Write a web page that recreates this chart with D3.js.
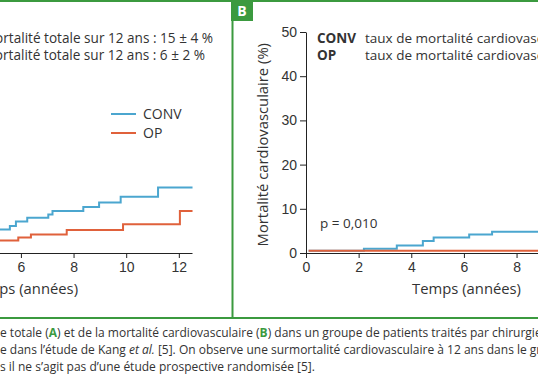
<!DOCTYPE html>
<html>
<head>
<meta charset="utf-8">
<script src="https://cdn.jsdelivr.net/npm/d3@7"></script>
<style>
  body { margin: 0; background: #fff; }
  svg { display: block; font-family: "Open Sans", "Noto Sans", sans-serif; }
</style>
</head>
<body>
<div id="chart"></div>
<script>
// panel A : mortalité totale (steps, years / %)
const convTotalTimes = [0, 0.4, 1.1, 1.9, 2.7, 3.5, 4.3, 4.9, 5.58, 5.81, 6.24, 7.04, 7.2, 8.37, 8.97, 9.79, 11.21];
const convTotalValues = [0, 0.7, 1.5, 2.3, 3.0, 3.8, 4.5, 5.3, 6.1, 7.1, 8.0, 8.7, 9.5, 10.4, 11.4, 12.7, 14.8];
const opTotalTimes = [0, 0.8, 2.2, 3.9, 5.9, 6.38, 7.74, 9.88, 12.04];
const opTotalValues = [0, 0.7, 1.5, 2.8, 3.5, 4.2, 5.2, 6.5, 9.5];

// panel B : mortalité cardiovasculaire
const convCvTimes = [0.1, 2.2, 3.45, 4.44, 4.85, 6.2, 7.07];
const convCvValues = [0.5, 0.95, 1.7, 2.7, 3.5, 4.2, 4.8];
const opCvTimes = [0.1];
const opCvValues = [0.5];

const endTime = 12.52;
const xTicks = [0, 2, 4, 6, 8, 10, 12];
const yTicks = [0, 10, 20, 30, 40, 50];

const titlesA = ["CONV   taux de mortalité totale sur 12 ans : 15 ± 4 %",
                 "OP   taux de mortalité totale sur 12 ans : 6 ± 2 %"];
const legendNames = ["CONV", "OP"];
const legendB = ["taux de mortalité cardiovasculaire sur 12 ans : 5 ± 2 %",
                 "taux de mortalité cardiovasculaire sur 12 ans : 0,5 ± 0,5 %"];

const blue = "#4ba6cf", orange = "#e0613b", green = "#3b9a3f", ink = "#333";

let width = 538, height = 384;
let svg = d3.select("#chart").append("svg")
    .attr("width", width).attr("height", height);

svg.append("rect").attr("width", width).attr("height", height).attr("fill", "#fff");

function steps(times, values) {
    let pts = times.map((t, i) => [t, values[i]]);
    pts.push([endTime, values[values.length - 1]]);
    return pts;
}

let y = d3.scaleLinear().domain([0, 50]).range([253, 32]);

function drawPanel(g, x, series) {
    let line = d3.line()
        .x(d => x(d[0]))
        .y(d => y(d[1]))
        .curve(d3.curveStepAfter);

    series.forEach(s => {
        g.append("path")
            .datum(steps(s.times, s.values))
            .attr("fill", "none")
            .attr("stroke", s.color)
            .attr("stroke-width", 2)
            .attr("d", line);
    });

    let xAxis = g.append("g")
        .attr("transform", "translate(0," + y(0) + ")")
        .call(d3.axisBottom(x).tickValues(xTicks).tickSize(5).tickSizeOuter(0).tickPadding(4));
    xAxis.selectAll("text").attr("font-size", 14).attr("fill", ink);
    xAxis.selectAll("line,path").attr("stroke", "#222");

    let yAxis = g.append("g")
        .attr("transform", "translate(" + x(0) + ",0)")
        .call(d3.axisLeft(y).tickValues(yTicks).tickSize(6).tickSizeOuter(0).tickPadding(3));
    yAxis.selectAll("text").attr("font-size", 14).attr("fill", ink);
    yAxis.selectAll("line,path").attr("stroke", "#222");

    g.append("text")
        .attr("x", x(6.1)).attr("y", 294)
        .attr("text-anchor", "middle")
        .attr("font-size", 14.8).attr("fill", ink)
        .text("Temps (années)");

    g.append("text")
        .attr("transform", "translate(" + (x(0) - 38) + "," + y(24.5) + ") rotate(-90)")
        .attr("text-anchor", "middle")
        .attr("font-size", 14.8).attr("fill", ink)
        .text(g.attr("data-ylabel"));
}

// ---- panel A
let xA = d3.scaleLinear().domain([0, 12.5]).range([-137, 192]);
let gA = svg.append("g").attr("data-ylabel", "Mortalité totale (%)");
drawPanel(gA, xA, [
    {times: convTotalTimes, values: convTotalValues, color: blue},
    {times: opTotalTimes, values: opTotalValues, color: orange}
]);

gA.selectAll(".titleA")
    .data(titlesA)
    .enter().append("text")
    .attr("x", (d, i) => i === 0 ? 213 : 205)
    .attr("y", (d, i) => 43 + i * 17)
    .attr("text-anchor", "end")
    .attr("font-size", 13.6).attr("fill", ink)
    .text(d => d);

let leg = gA.selectAll(".leg")
    .data(legendNames)
    .enter().append("g")
    .attr("transform", (d, i) => "translate(111," + (114 + i * 19) + ")");
leg.append("line")
    .attr("x1", 0).attr("x2", 25)
    .attr("stroke", (d, i) => i === 0 ? blue : orange)
    .attr("stroke-width", 2);
leg.append("text")
    .attr("x", 32).attr("y", 5)
    .attr("font-size", 14).attr("fill", ink)
    .text(d => d);

// ---- panel B
let xB = d3.scaleLinear().domain([0, 12.5]).range([306, 635]);
let gB = svg.append("g").attr("data-ylabel", "Mortalité cardiovasculaire (%)");
drawPanel(gB, xB, [
    {times: convCvTimes, values: convCvValues, color: blue},
    {times: opCvTimes, values: opCvValues, color: orange}
]);

legendNames.forEach((name, i) => {
    gB.append("text")
        .attr("x", 317).attr("y", 43 + i * 17)
        .attr("font-size", 13.5).attr("font-weight", "bold").attr("fill", ink)
        .text(name);
    gB.append("text")
        .attr("x", 365).attr("y", 43 + i * 17)
        .attr("font-size", 13.5).attr("fill", ink)
        .text(legendB[i]);
});

gB.append("text")
    .attr("x", 320).attr("y", 228)
    .attr("font-size", 13.5).attr("fill", ink)
    .text("p = 0,010");

// ---- frame
svg.append("line").attr("x1", 0).attr("x2", width).attr("y1", 1).attr("y2", 1)
    .attr("stroke", green).attr("stroke-width", 2);
svg.append("line").attr("x1", 0).attr("x2", width).attr("y1", 318).attr("y2", 318)
    .attr("stroke", green).attr("stroke-width", 2);
svg.append("line").attr("x1", 232.5).attr("x2", 232.5).attr("y1", 0).attr("y2", 318)
    .attr("stroke", green).attr("stroke-width", 2);
svg.append("rect").attr("x", 231).attr("y", 0).attr("width", 22).attr("height", 21)
    .attr("fill", green);
svg.append("text").attr("x", 242).attr("y", 16)
    .attr("text-anchor", "middle")
    .attr("font-size", 14).attr("font-weight", "bold").attr("fill", "#fff")
    .text("B");

// ---- caption
let caption = svg.append("text").attr("font-size", 12).attr("fill", ink);
let l1 = caption.append("tspan").attr("x", 0).attr("y", 337);
l1.append("tspan").text("e totale (");
l1.append("tspan").attr("fill", green).attr("font-weight", "bold").text("A");
l1.append("tspan").text(") et de la mortalité cardiovasculaire (");
l1.append("tspan").attr("fill", green).attr("font-weight", "bold").text("B");
l1.append("tspan").text(") dans un groupe de patients traités par chirurgie");
let l2 = caption.append("tspan").attr("x", 0).attr("y", 354);
l2.append("tspan").text("e dans l’étude de Kang ");
l2.append("tspan").attr("font-style", "italic").text("et al.");
l2.append("tspan").text(" [5]. On observe une surmortalité cardiovasculaire à 12 ans dans le groupe");
caption.append("tspan").attr("x", 0).attr("y", 371)
    .text("s il ne s’agit pas d’une étude prospective randomisée [5].");
</script>
</body>
</html>
